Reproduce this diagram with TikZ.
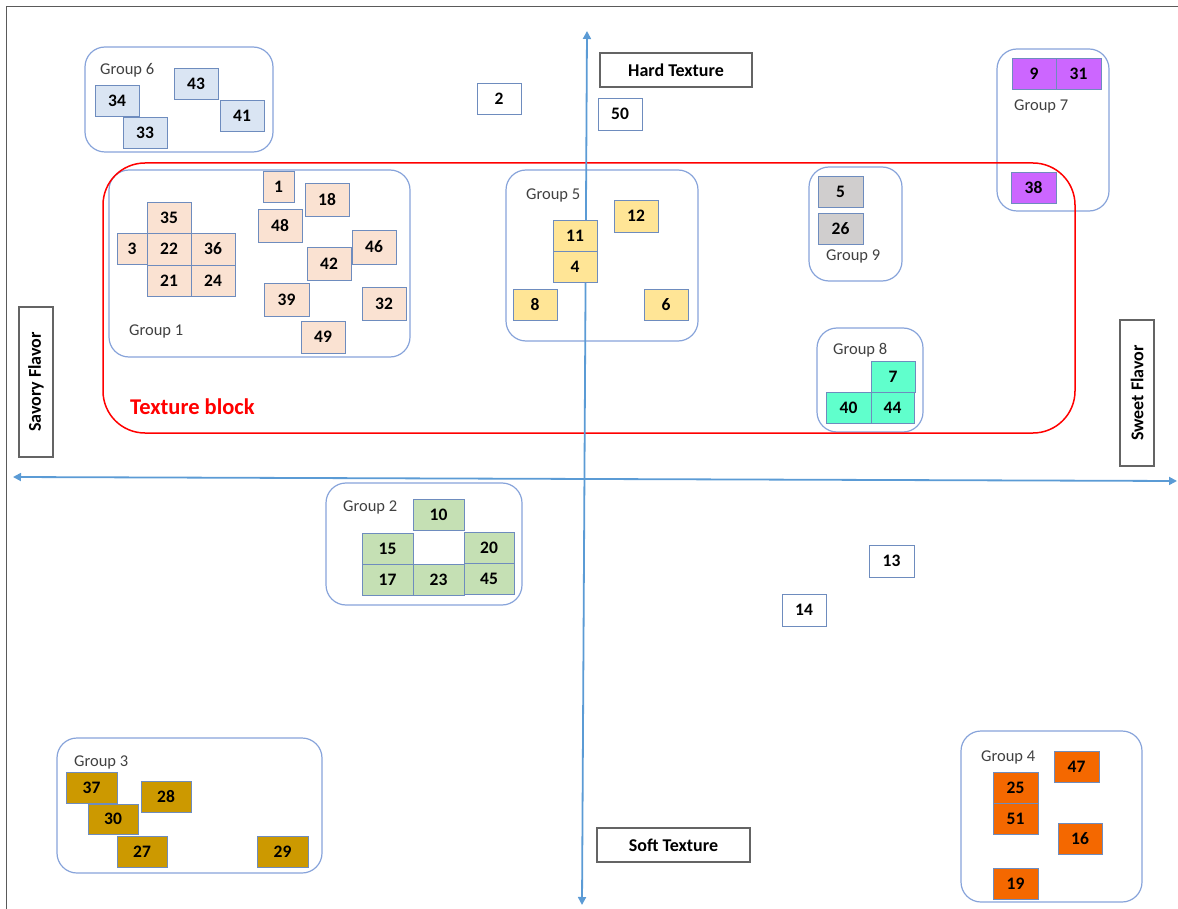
\documentclass[tikz,border=0pt]{standalone}
\usepackage{fontspec}
\setmainfont{Carlito}
\usetikzlibrary{arrows.meta}
\definecolor{grpborder}{RGB}{135,163,218}
\definecolor{boxborder}{RGB}{110,140,190}
\definecolor{peach}{RGB}{250,226,210}
\definecolor{lblue}{RGB}{218,229,243}
\definecolor{yel}{RGB}{255,229,150}
\definecolor{purp}{RGB}{204,102,255}
\definecolor{grayf}{RGB}{208,206,206}
\definecolor{aqua}{RGB}{96,255,204}
\definecolor{greenf}{RGB}{197,224,180}
\definecolor{gold}{RGB}{204,153,0}
\definecolor{orng}{RGB}{244,104,0}
\definecolor{axisblue}{RGB}{91,155,213}
\definecolor{labelgray}{RGB}{64,64,64}
\definecolor{axgray}{RGB}{100,100,100}
\definecolor{framegray}{RGB}{90,90,90}
\tikzset{
  nbox/.style={draw=boxborder, line width=0.9pt, inner sep=0pt, font=\fontsize{17.5}{19}\selectfont\bfseries, text=black},
  grp/.style={draw=grpborder, line width=1.2pt, rounded corners=20pt, inner sep=0pt},
  glabel/.style={anchor=west, font=\fontsize{16.5}{18}\selectfont, text=labelgray, inner sep=0pt},
  axlabel/.style={draw=axgray, line width=1.1pt, fill=white, inner sep=0pt, font=\fontsize{18}{20}\selectfont\bfseries},
  axisline/.style={draw=axisblue, line width=1.8pt, {Triangle[length=8pt,width=8pt]}-{Triangle[length=8pt,width=8pt]}},
}
\newcommand\nb[7]{\node[nbox,fill=#7,minimum width={(#4)-(#2)},minimum height={(#5)-(#3)}] (n#1) at ({((#2)+(#4))/2},{((#3)+(#5))/2}) {#6};}
\newcommand\gp[5]{\node[grp,minimum width={(#4)-(#2)},minimum height={(#5)-(#3)}] (#1) at ({((#2)+(#4))/2},{((#3)+(#5))/2}) {};}
\begin{document}
\begin{tikzpicture}[x=1pt,y=-1pt]
\useasboundingbox (0,0) rectangle (1178,909);
% frame
\coordinate (fa) at (6,909);
\coordinate (fb) at (6,7);
\coordinate (fc) at (1178,7);
\draw[framegray, line width=1pt] (fa) -- (fb) -- (fc);
% groups
\gp{g6}{85}{47}{273}{152}
\gp{g1}{109}{170}{410}{357}
\gp{g5}{506}{170}{698}{341}
\gp{g9}{809}{167}{902}{281}
\gp{g7}{997}{49}{1109}{211}
\gp{g8}{817}{328}{923}{432}
\gp{g2}{326}{483}{522}{605}
\gp{g3}{57}{738}{322}{873}
\gp{g4}{961}{731}{1142}{902}
% texture block
\node[draw=red, line width=1.5pt, rounded corners=42pt, inner sep=0pt, minimum width=972, minimum height=270] (tblock) at (589,298) {};
\node[anchor=west, inner sep=0pt, text=red, font=\fontsize{22.5}{24}\selectfont\bfseries] (tlabel) at (130,407) {Texture block};
% axes
\coordinate (axL) at (13,477);
\coordinate (axR) at (1177,481);
\coordinate (axT) at (587,31);
\coordinate (axB) at (582,905);
\draw[axisline] (axL) -- (axR);
\draw[axisline] (axT) -- (axB);
% group labels
\node[glabel] (l6) at (100,70) {Group 6};
\node[glabel] (l1) at (129,331) {Group 1};
\node[glabel] (l5) at (526,195) {Group 5};
\node[glabel] (l9) at (826,256) {Group 9};
\node[glabel] (l7) at (1014,106) {Group 7};
\node[glabel] (l8) at (833,350) {Group 8};
\node[glabel] (l2) at (343,507) {Group 2};
\node[glabel] (l3) at (74,762) {Group 3};
\node[glabel] (l4) at (981,757) {Group 4};
% group 6
\nb{34}{95}{85}{139}{116}{34}{lblue}
\nb{43}{174}{68}{218}{99}{43}{lblue}
\nb{41}{220}{100}{264}{131}{41}{lblue}
\nb{33}{123}{117}{167}{148}{33}{lblue}
% group 1
\nb{1}{263}{171}{294}{202}{1}{peach}
\nb{18}{305}{183}{349}{216}{18}{peach}
\nb{35}{147}{202}{191}{233}{35}{peach}
\nb{48}{258}{209}{302}{242}{48}{peach}
\nb{3}{117}{233}{147}{264}{3}{peach}
\nb{22}{147}{233}{191}{265}{22}{peach}
\nb{36}{191}{233}{235}{265}{36}{peach}
\nb{21}{147}{265}{191}{296}{21}{peach}
\nb{24}{191}{265}{235}{296}{24}{peach}
\nb{46}{352}{230}{396}{264}{46}{peach}
\nb{42}{307}{247}{351}{280}{42}{peach}
\nb{39}{264}{283}{309}{316}{39}{peach}
\nb{32}{362}{287}{406}{320}{32}{peach}
\nb{49}{301}{321}{345}{353}{49}{peach}
% group 5
\nb{12}{614}{200}{658}{232}{12}{yel}
\nb{11}{553}{220}{597}{251}{11}{yel}
\nb{4}{553}{251}{597}{282}{4}{yel}
\nb{8}{513}{289}{557}{320}{8}{yel}
\nb{6}{644}{289}{688}{320}{6}{yel}
% singles
\nb{2}{477}{83}{521}{114}{2}{white}
\nb{50}{598}{98}{642}{130}{50}{white}
\nb{13}{869}{545}{914}{577}{13}{white}
\nb{14}{782}{594}{826}{626}{14}{white}
% group 9
\nb{5}{818}{176}{863}{207}{5}{grayf}
\nb{26}{818}{213}{863}{244}{26}{grayf}
% group 7
\nb{9}{1012}{58}{1056}{89}{9}{purp}
\nb{31}{1056}{58}{1101}{89}{31}{purp}
\nb{38}{1011}{172}{1056}{203}{38}{purp}
% group 8
\nb{7}{871}{361}{915}{392}{7}{aqua}
\nb{40}{826}{392}{871}{423}{40}{aqua}
\nb{44}{871}{392}{914}{423}{44}{aqua}
% group 2
\nb{10}{413}{499}{464}{530}{10}{greenf}
\nb{15}{362}{533}{413}{564}{15}{greenf}
\nb{20}{464}{532}{514}{563}{20}{greenf}
\nb{17}{362}{564}{413}{595}{17}{greenf}
\nb{23}{413}{564}{464}{595}{23}{greenf}
\nb{45}{464}{563}{514}{594}{45}{greenf}
% group 3
\nb{37}{66}{772}{117}{803}{37}{gold}
\nb{28}{141}{781}{191}{812}{28}{gold}
\nb{30}{88}{804}{138}{834}{30}{gold}
\nb{27}{117}{836}{167}{867}{27}{gold}
\nb{29}{257}{836}{308}{867}{29}{gold}
% group 4
\nb{47}{1054}{751}{1099}{782}{47}{orng}
\nb{25}{993}{772}{1038}{803}{25}{orng}
\nb{51}{993}{803}{1038}{834}{51}{orng}
\nb{16}{1058}{823}{1102}{854}{16}{orng}
\nb{19}{993}{868}{1038}{899}{19}{orng}
% axis labels
\node[axlabel, minimum width=152, minimum height=34] (hard) at (676,70) {Hard Texture};
\node[axlabel, minimum width=153, minimum height=34] (soft) at (673.5,845) {Soft Texture};
\node[axlabel, rotate=90, minimum width=150, minimum height=34] (savory) at (36,382) {Savory Flavor};
\node[axlabel, rotate=90, minimum width=146, minimum height=34] (sweet) at (1137,393) {Sweet Flavor};
\end{tikzpicture}
\end{document}
